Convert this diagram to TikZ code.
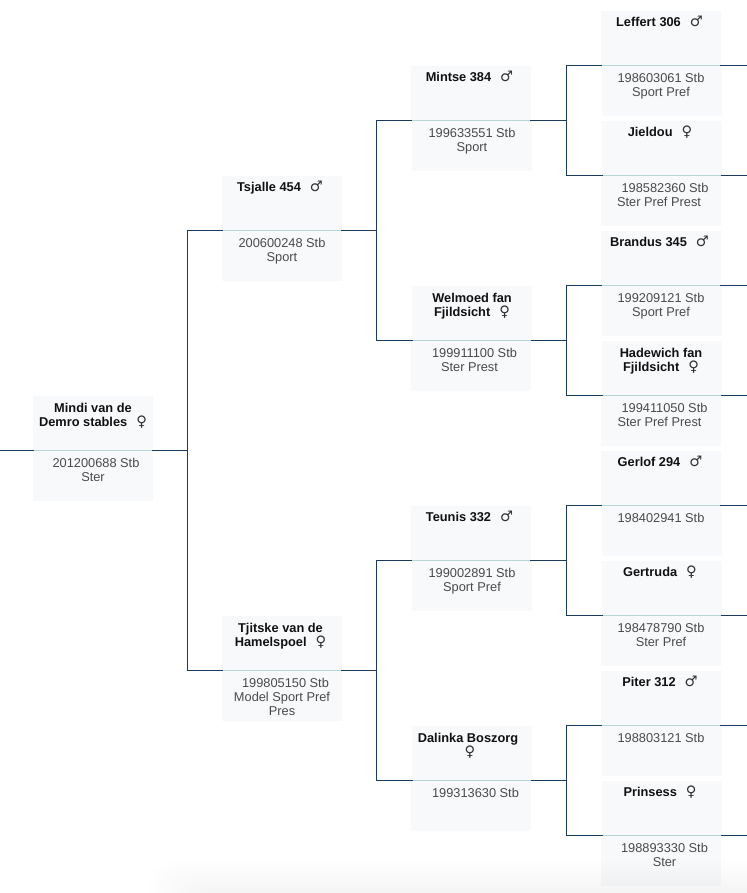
\documentclass[tikz,border=0pt]{standalone}
\usepackage{fontspec}
\setmainfont{Liberation Sans}
\newfontfamily\symfont{DejaVu Sans}
\newcommand{\sym}[1]{\smash{\textcolor{symcol}{\symfont\fontsize{14.5}{14}\selectfont\mdseries #1}}}
\newcommand{\ma}{\hspace{9pt}\sym{♂}}
\newcommand{\fe}{\hspace{9pt}\sym{♀}}
\newcommand{\twoline}{\rule{0pt}{9.9pt}}
\tikzset{
  x=1pt,y=-1pt,
  cardtop/.style={fill=cardbg,draw=none,inner sep=0pt,outer sep=0pt,minimum width=120pt,minimum height=54.5pt,anchor=north west},
  cardbot/.style={fill=cardbg,draw=none,inner sep=0pt,outer sep=0pt,minimum width=120pt,minimum height=50.5pt,anchor=north west},
  title/.style={font=\fontsize{12.8}{14}\selectfont\bfseries,text=titlecol,align=center,anchor=north,inner sep=0pt},
  subtitle/.style={font=\fontsize{12.8}{14}\selectfont,text=subcol,align=center,anchor=north,inner sep=0pt},
  divider/.style={draw=divcol,line width=1pt},
  conn/.style={draw=conncol,line width=1.1pt,line cap=rect}
}
\definecolor{cardbg}{HTML}{F8F9FB}
\definecolor{titlecol}{HTML}{111111}
\definecolor{subcol}{HTML}{4A4A4A}
\definecolor{symcol}{HTML}{333333}
\definecolor{divcol}{HTML}{B8D6D3}
\definecolor{conncol}{HTML}{1B3A5F}
% name, top x, bottom x, top y, title centre, title, sub centre, sub
\newcommand{\card}[8]{%
  \node[cardtop] (#1) at (#2,#4) {};
  \node[cardbot] (#1b) at (#3,#4+54.5) {};
  \draw[divider] (#1.south west) -- (#1.south east);
  \node[title] (#1t) at (#5,#4+6.5) {#6};
  \node[subtitle] (#1s) at (#7,#4+62.5) {#8};
}
\begin{document}
\begin{tikzpicture}
\useasboundingbox (0,0) rectangle (746,893);
\fill[white] (0,0) rectangle (746,893);
\coordinate (busA) at (187.5,0);
\coordinate (busB) at (376.5,0);
\coordinate (busC) at (566.5,0);
\coordinate (edgeL) at (0,0);
\coordinate (edgeR) at (746,0);

\card{mindi}{33}{33}{396}{93}{\twoline Mindi van de\\Demro stables\fe}{96}{201200688 Stb\\\hspace{-6pt}Ster}
\card{tsjalle}{222}{222}{176}{280}{Tsjalle 454\ma}{282}{200600248 Stb\\Sport}
\card{tjitske}{222}{222}{616}{280.5}{\twoline Tjitske van de\\Hamelspoel\fe}{282}{\hspace{7pt}199805150 Stb\\Model Sport Pref\\Pres\hspace{2pt}}
\card{mintse}{411}{412}{66}{469.5}{Mintse 384\ma}{472}{199633551 Stb\\Sport}
\card{welmoed}{412}{411}{286}{472}{\twoline Welmoed fan\\Fjildsicht\fe\hspace{2pt}}{469.5}{\hspace{10pt}199911100 Stb\\Ster Prest}
\card{teunis}{411}{412}{506}{469.5}{Teunis 332\ma}{472}{199002891 Stb\\Sport Pref}
\card{dalinka}{412}{411}{726}{468}{\twoline Dalinka Boszorg\\\hspace{4pt}\sym{♀}}{475.5}{199313630 Stb}
\card{leffert}{601}{602}{11}{659.5}{Leffert 306\ma}{661}{198603061 Stb\\Sport Pref}
\card{jieldou}{602}{601}{121}{660}{Jieldou\fe}{659}{\hspace{12pt}198582360 Stb\\Ster Pref Prest}
\card{brandus}{601}{602}{231}{659.5}{Brandus 345\ma}{661}{199209121 Stb\\Sport Pref}
\card{hadewich}{602}{601}{341}{661}{\twoline Hadewich fan\\Fjildsicht\fe\hspace{2pt}}{659.5}{\hspace{10pt}199411050 Stb\\Ster Pref Prest}
\card{gerlof}{601}{602}{451}{660}{Gerlof 294\ma}{661}{198402941 Stb}
\card{gertruda}{602}{601}{561}{660}{Gertruda\fe}{661}{198478790 Stb\\Ster Pref}
\card{piter}{601}{602}{671}{660}{Piter 312\ma}{661}{198803121 Stb}
\card{prinsess}{602}{601}{781}{660}{Prinsess\fe}{664.5}{198893330 Stb\\Ster\hspace{6pt}}

\draw[conn] (edgeL |- mindi.south) -- (mindi.south west);
\draw[conn] (mindi.south east) -- (busA |- mindi.south);
\draw[conn] (tsjalle.south west) -- (busA |- tsjalle.south) -- (busA |- tjitske.south) -- (tjitske.south west);
\draw[conn] (tsjalle.south east) -- (busB |- tsjalle.south);
\draw[conn] (mintse.south west) -- (busB |- mintse.south) -- (busB |- welmoed.south) -- (welmoed.south west);
\draw[conn] (tjitske.south east) -- (busB |- tjitske.south);
\draw[conn] (teunis.south west) -- (busB |- teunis.south) -- (busB |- dalinka.south) -- (dalinka.south west);
\draw[conn] (mintse.south east) -- (busC |- mintse.south);
\draw[conn] (leffert.south west) -- (busC |- leffert.south) -- (busC |- jieldou.south) -- (jieldou.south west);
\draw[conn] (welmoed.south east) -- (busC |- welmoed.south);
\draw[conn] (brandus.south west) -- (busC |- brandus.south) -- (busC |- hadewich.south) -- (hadewich.south west);
\draw[conn] (teunis.south east) -- (busC |- teunis.south);
\draw[conn] (gerlof.south west) -- (busC |- gerlof.south) -- (busC |- gertruda.south) -- (gertruda.south west);
\draw[conn] (dalinka.south east) -- (busC |- dalinka.south);
\draw[conn] (piter.south west) -- (busC |- piter.south) -- (busC |- prinsess.south) -- (prinsess.south west);
\foreach \n in {leffert,jieldou,brandus,hadewich,gerlof,gertruda,piter,prinsess}{
  \draw[conn] (\n.south east) -- (edgeR |- \n.south);
}
% soft shadow rising from the bottom edge
\foreach \i in {0,...,9}{
  \fill[black,opacity=0.004,rounded corners=25pt] (148+\i*5,862+\i*3) rectangle (800,930);
}
\end{tikzpicture}
\end{document}
